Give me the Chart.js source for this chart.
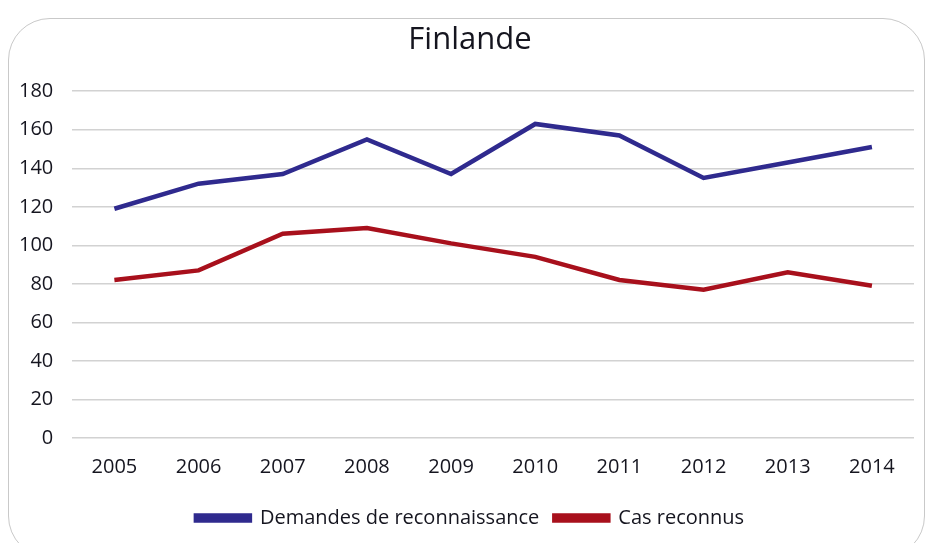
<!DOCTYPE html>
<html>
<head>
<meta charset="utf-8">
<script src="https://cdn.jsdelivr.net/npm/chart.js@4"></script>
<style>
  html, body { margin: 0; padding: 0; background: #fff; }
  #wrap { position: relative; width: 926px; height: 543px; overflow: hidden; }
  #frame {
    position: absolute; left: 8px; top: 18px; width: 917px; height: 540px;
    border: 1.5px solid #c9c9c9; border-radius: 42px; box-sizing: border-box;
  }
  canvas { position: absolute; left: 0; top: 0; }
</style>
</head>
<body>
<div id="wrap">
  <div id="frame"></div>
  <canvas id="lineChart" width="926" height="543"></canvas>
</div>
<script>
  const years = ['2005', '2006', '2007', '2008', '2009', '2010', '2011', '2012', '2013', '2014'];
  const demandes = [119, 132, 137, 155, 137, 163, 157, 135, 143, 151];
  const reconnus = [82, 87, 106, 109, 101, 94, 82, 77, 86, 79];

  // nudge title and legend a little to the right / down, like the original
  const nudgeBoxes = {
    id: 'nudgeBoxes',
    afterLayout(chart) {
      const t = chart.titleBlock;
      t.left += 13; t.right += 13;
      const l = chart.legend;
      l.left += 13; l.right += 13;
      l.top += 5; l.bottom += 5;
    }
  };

  const ctx = document.getElementById('lineChart').getContext('2d');
  const lineChart = new Chart(ctx, {
    type: 'line',
    data: {
      labels: years,
      datasets: [{
        label: 'Demandes de reconnaissance',
        data: demandes,
        borderColor: '#2f2a8e',
        backgroundColor: '#2f2a8e',
        borderWidth: 4.5,
        pointRadius: 0,
        tension: 0
      }, {
        label: 'Cas reconnus',
        data: reconnus,
        borderColor: '#a8101c',
        backgroundColor: '#a8101c',
        borderWidth: 4.5,
        pointRadius: 0,
        tension: 0
      }]
    },
    options: {
      responsive: false,
      animation: false,
      layout: { padding: { left: 0, right: 12, top: 0, bottom: 10 } },
      plugins: {
        title: {
          display: true,
          text: 'Finlande',
          color: '#15151f',
          font: { family: 'Open Sans', size: 31, weight: 'normal' },
          padding: { top: 22, bottom: 32 }
        },
        legend: {
          position: 'bottom',
          labels: {
            color: '#15151f',
            font: { family: 'Open Sans', size: 20 },
            boxWidth: 54,
            boxHeight: 5,
            padding: 15
          }
        },
        tooltip: { enabled: false }
      },
      scales: {
        x: {
          offset: true,
          grid: { display: false },
          border: { display: false },
          ticks: {
            color: '#15151f',
            font: { family: 'Open Sans', size: 20 },
            padding: 9
          }
        },
        y: {
          min: 0,
          max: 180,
          grid: { color: '#d2d2d2', lineWidth: 1.5, drawTicks: false },
          border: { display: false },
          ticks: {
            stepSize: 20,
            color: '#15151f',
            font: { family: 'Open Sans', size: 20 },
            padding: 19
          }
        }
      }
    },
    plugins: [nudgeBoxes]
  });
</script>
</body>
</html>
